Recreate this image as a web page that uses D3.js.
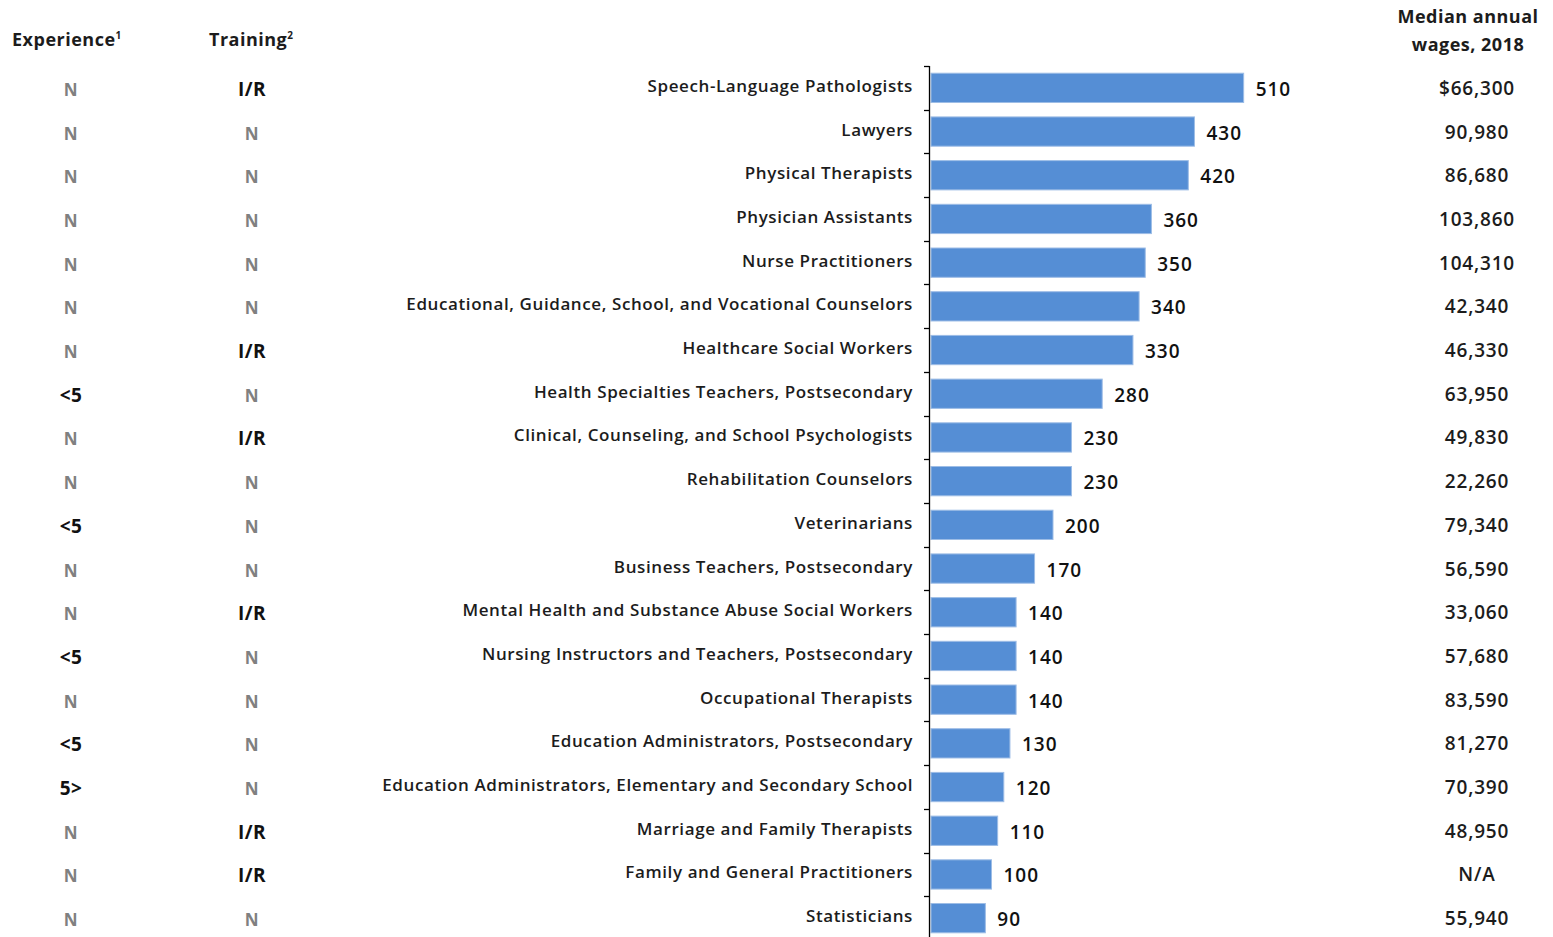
<!DOCTYPE html>
<html>
<head>
<meta charset="utf-8">
<script src="https://cdn.jsdelivr.net/npm/d3@7"></script>
<style>
  body { margin: 0; background: #fff; }
  svg { display: block; font-family: 'Open Sans', sans-serif; }
  .cat { font-size: 17px; font-weight: 600; fill: #1c1c1c; letter-spacing: 0.6px; }
  .val { font-size: 19px; font-weight: 600; fill: #111; letter-spacing: 1px; }
  .wage { font-size: 19px; font-weight: 600; fill: #1c1c1c; letter-spacing: 0.8px; }
  .code { font-size: 19px; font-weight: 700; fill: #111; letter-spacing: 0.5px; }
  .code.n { fill: #808080; font-size: 17px; }
  .head { font-size: 18px; font-weight: 700; fill: #1c1c1c; letter-spacing: 0.5px; }
</style>
</head>
<body>
<div class="chart"></div>
<script>
const occupations = [
  'Speech-Language Pathologists',
  'Lawyers',
  'Physical Therapists',
  'Physician Assistants',
  'Nurse Practitioners',
  'Educational, Guidance, School, and Vocational Counselors',
  'Healthcare Social Workers',
  'Health Specialties Teachers, Postsecondary',
  'Clinical, Counseling, and School Psychologists',
  'Rehabilitation Counselors',
  'Veterinarians',
  'Business Teachers, Postsecondary',
  'Mental Health and Substance Abuse Social Workers',
  'Nursing Instructors and Teachers, Postsecondary',
  'Occupational Therapists',
  'Education Administrators, Postsecondary',
  'Education Administrators, Elementary and Secondary School',
  'Marriage and Family Therapists',
  'Family and General Practitioners',
  'Statisticians'
]
const postings = [510, 430, 420, 360, 350, 340, 330, 280, 230, 230, 200, 170, 140, 140, 140, 130, 120, 110, 100, 90]
const experience = ['N', 'N', 'N', 'N', 'N', 'N', 'N', '<5', 'N', 'N', '<5', 'N', 'N', '<5', 'N', '<5', '5>', 'N', 'N', 'N']
const training = ['I/R', 'N', 'N', 'N', 'N', 'N', 'I/R', 'N', 'I/R', 'N', 'N', 'N', 'I/R', 'N', 'N', 'N', 'N', 'I/R', 'I/R', 'N']
const wages = ['$66,300', '90,980', '86,680', '103,860', '104,310', '42,340', '46,330', '63,950', '49,830', '22,260',
  '79,340', '56,590', '33,060', '57,680', '83,590', '81,270', '70,390', '48,950', 'N/A', '55,940']

const WIDTH = 1553
const HEIGHT = 937
const BAR_COLOR = '#558ed5'

const rows = occupations.map((name, i) => ({
  name,
  value: postings[i],
  exp: experience[i],
  train: training[i],
  wage: wages[i]
}))

const svg = d3.select('.chart').append('svg')
  .attr('width', WIDTH)
  .attr('height', HEIGHT)

const scaleX = d3.scaleLinear().domain([0, 600]).range([930, 1299])
const scaleY = d3.scaleBand().domain(occupations).range([66, 940]).paddingInner(0.33).paddingOuter(0.165)
const step = scaleY.step()
const mid = d => scaleY(d) + scaleY.bandwidth() / 2
const bandStart = d => Math.round(scaleY(d) - (step - scaleY.bandwidth()) / 2) + 0.5

// headers
const head = svg.append('g')
const expHead = head.append('text').attr('class', 'head').attr('x', 12).attr('y', 46)
expHead.append('tspan').text('Experience')
expHead.append('tspan').attr('font-size', 10).attr('dy', -7).text('1')
const trHead = head.append('text').attr('class', 'head').attr('x', 209).attr('y', 46)
trHead.append('tspan').text('Training')
trHead.append('tspan').attr('font-size', 10).attr('dy', -7).text('2')
head.append('text').attr('class', 'head').attr('x', 1468).attr('y', 23)
  .attr('text-anchor', 'middle').text('Median annual')
head.append('text').attr('class', 'head').attr('x', 1468).attr('y', 51)
  .attr('text-anchor', 'middle').text('wages, 2018')

// bars
const plot = svg.append('g').attr('class', 'g-plot')
plot.selectAll('rect.bar').data(rows).enter().append('rect')
  .attr('class', 'bar')
  .attr('x', scaleX(0) + 1)
  .attr('y', d => scaleY(d.name))
  .attr('width', d => scaleX(d.value) - scaleX(0) - 1)
  .attr('height', scaleY.bandwidth())
  .attr('fill', BAR_COLOR)
  .attr('stroke', '#9dbde6')
  .attr('stroke-width', 1)

plot.selectAll('text.val').data(rows).enter().append('text')
  .attr('class', 'val')
  .attr('x', d => scaleX(d.value) + 12)
  .attr('y', d => mid(d.name) + 8)
  .text(d => d.value)

// axis with ticks between categories
const axis = svg.append('g').attr('class', 'axis')
axis.append('line')
  .attr('x1', 929.5).attr('x2', 929.5)
  .attr('y1', 66).attr('y2', HEIGHT)
  .attr('stroke', '#000').attr('stroke-width', 1.3)
axis.selectAll('line.tick').data(occupations).enter().append('line')
  .attr('class', 'tick')
  .attr('x1', 924).attr('x2', 929.5)
  .attr('y1', d => bandStart(d))
  .attr('y2', d => bandStart(d))
  .attr('stroke', '#000').attr('stroke-width', 1.3)

// category labels
svg.append('g').selectAll('text.cat').data(rows).enter().append('text')
  .attr('class', 'cat')
  .attr('x', 913)
  .attr('y', d => mid(d.name) + 4)
  .attr('text-anchor', 'end')
  .text(d => d.name)

// side columns
const side = svg.append('g')
side.selectAll('text.exp').data(rows).enter().append('text')
  .attr('class', d => 'code' + (d.exp === 'N' ? ' n' : ''))
  .attr('x', 71)
  .attr('y', d => mid(d.name) + 8)
  .attr('text-anchor', 'middle')
  .text(d => d.exp)
side.selectAll('text.train').data(rows).enter().append('text')
  .attr('class', d => 'code' + (d.train === 'N' ? ' n' : ''))
  .attr('x', 252)
  .attr('y', d => mid(d.name) + 8)
  .attr('text-anchor', 'middle')
  .text(d => d.train)
side.selectAll('text.wage').data(rows).enter().append('text')
  .attr('class', 'wage')
  .attr('x', 1477)
  .attr('y', d => mid(d.name) + 7)
  .attr('text-anchor', 'middle')
  .text(d => d.wage)
</script>
</body>
</html>
